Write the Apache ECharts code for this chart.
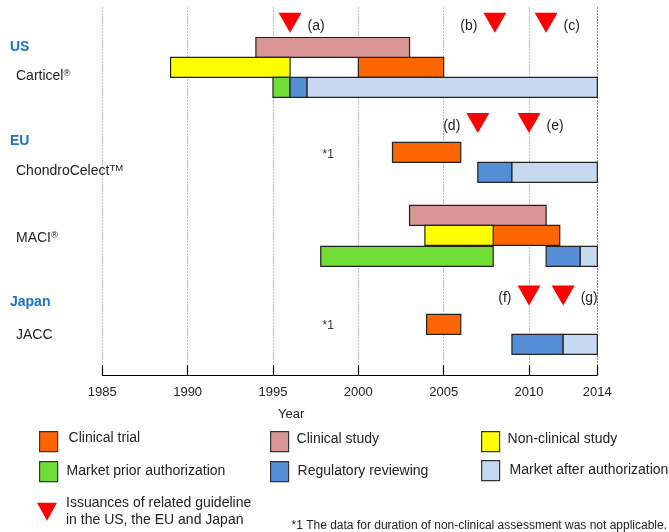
<!DOCTYPE html>
<html>
<head>
<meta charset="utf-8">
<script src="https://cdn.jsdelivr.net/npm/echarts@6/dist/echarts.min.js"></script>
<style>
html,body{margin:0;padding:0;background:#fff;}
#main{width:669px;height:532px;}
</style>
</head>
<body>
<div id="main"></div>
<script>
// development phases (legend order)
const phaseNames = ['Clinical trial', 'Clinical study', 'Non-clinical study',
    'Market prior authorization', 'Regulatory reviewing', 'Market after authorization'];

// one entry per bar: phase, start year, end year, lane (row, counted from top)
const barPhase = [
    'Clinical study', 'Non-clinical study', 'Clinical trial', 'Market prior authorization', 'Regulatory reviewing', 'Market after authorization',
    'Clinical trial', 'Regulatory reviewing', 'Market after authorization',
    'Clinical study', 'Non-clinical study', 'Clinical trial', 'Market prior authorization', 'Regulatory reviewing', 'Market after authorization',
    'Clinical trial', 'Regulatory reviewing', 'Market after authorization'
];
const barStart = [1994, 1989, 2000, 1995, 1996, 1997,   2002, 2007, 2009,   2003, 2003.9, 2007.9, 1997.8, 2011, 2013,   2004, 2009, 2012];
const barEnd   = [2003, 1996, 2005, 1996, 1997, 2014,   2006, 2009, 2014,   2011, 2007.9, 2011.8, 2007.9, 2013, 2014,   2006, 2012, 2014];
const barLane  = [2, 3, 3, 4, 4, 4,   7.25, 8.25, 8.25,   10.4, 11.4, 11.4, 12.45, 12.45, 12.45,   15.85, 16.85, 16.85];

// guideline issuances (red triangles)
const guideName = 'Issuances of related guideline in the US, the EU and Japan';
const guideTags  = ['(a)', '(b)', '(c)', '(d)', '(e)', '(f)', '(g)'];
const guideYears = [1996, 2008, 2011, 2007, 2010, 2010, 2012];
const guideLanes = [0.76, 0.76, 0.76, 5.78, 5.78, 14.41, 14.41];

// row captions on the left
const rowLabels = ['US', 'Carticel', 'EU', 'ChondroCelect', 'MACI', 'Japan', 'JACC'];
const rowMarks  = ['', '®', '', 'TM', '®', '', ''];
const rowLanes  = [1.99, 3.43, 6.71, 8.18, 11.54, 14.76, 16.38];
const regionNames = ['US', 'EU', 'Japan'];

// "*1" notes
const noteYears = [1997.9, 1997.9];
const noteLanes = [7.38, 15.91];

const FONT = '"Liberation Sans", Arial, sans-serif';
const phaseColors = {
    'Clinical trial': '#ff6600',
    'Clinical study': '#d99694',
    'Non-clinical study': '#ffff00',
    'Market prior authorization': '#71de38',
    'Regulatory reviewing': '#558ed5',
    'Market after authorization': '#c6d9f1'
};
const tagSide = {'(a)': 'right', '(b)': 'left', '(c)': 'right', '(d)': 'left', '(e)': 'right', '(f)': 'left', '(g)': 'right'};

function renderBar(params, api){
    let s = api.coord([api.value(0), api.value(2)]);
    let e = api.coord([api.value(1), api.value(2)]);
    let h = api.size([0, 1])[1];
    return {
        type: 'rect',
        shape: {x: s[0], y: s[1] - h / 2, width: e[0] - s[0], height: h},
        style: {fill: api.visual('color'), stroke: '#222', lineWidth: 1.2}
    };
}

function phaseSeries(name){
    let data = [];
    barPhase.forEach((p, i) => {
        if(p === name){
            data.push([barStart[i], barEnd[i], barLane[i]]);
        }
    });
    return {
        type: 'custom',
        name: name,
        silent: true,
        renderItem: renderBar,
        itemStyle: {color: phaseColors[name]},
        encode: {x: [0, 1], y: 2},
        data: data
    };
}

function renderRowLabel(params, api){
    let i = params.dataIndex;
    let y = api.coord([1985, api.value(0)])[1];
    let isRegion = regionNames.includes(rowLabels[i]);
    let text = '{m|' + rowLabels[i] + '}' + (rowMarks[i] ? '{s|' + rowMarks[i] + '}' : '');
    return {
        type: 'text',
        x: isRegion ? 10 : 16,
        y: y,
        style: {
            text: text,
            verticalAlign: 'middle',
            rich: {
                m: {fontSize: 14, fontFamily: FONT, lineHeight: 16,
                    fontWeight: isRegion ? 'bold' : 'normal', fill: isRegion ? '#1874c8' : '#222'},
                s: {fontSize: 9.5, fontFamily: FONT, lineHeight: 10, verticalAlign: 'top', fill: '#222'}
            }
        }
    };
}

function renderNote(params, api){
    let p = api.coord([api.value(0), api.value(1)]);
    return {
        type: 'text', x: p[0], y: p[1],
        style: {text: '*1', fontSize: 12, fontFamily: FONT, fill: '#333', verticalAlign: 'middle'}
    };
}

// one legend box per entry so they sit in the 3-column layout of the original
function legendAt(name, left, top, textPad, opts){
    return Object.assign({
        data: [name],
        left: left,
        top: top,
        padding: 0,
        icon: 'rect',
        itemWidth: 18,
        itemHeight: 20,
        selectedMode: false,
        itemStyle: {borderColor: '#333', borderWidth: 1.2},
        formatter: '{t|{name}}',
        textStyle: {
            fontSize: 14, fontFamily: FONT, color: '#222',
            rich: {t: {fontSize: 14, fontFamily: FONT, color: '#222', padding: textPad}}
        }
    }, opts || {});
}

let myChart = echarts.init(document.getElementById('main'));

let series = phaseNames.map(phaseSeries);
series.push({
    type: 'scatter',
    name: guideName,
    silent: true,
    symbol: 'triangle',
    symbolRotate: 180,
    symbolSize: [23, 20],
    itemStyle: {color: '#ff0000', opacity: 1},
    label: {show: true, fontSize: 14, fontFamily: FONT, color: '#222', distance: 6, offset: [0, 3]},
    data: guideYears.map((y, i) => ({
        value: [y, guideLanes[i]],
        label: {formatter: guideTags[i], position: tagSide[guideTags[i]]}
    }))
});
series.push({
    type: 'custom',
    silent: true,
    renderItem: renderRowLabel,
    encode: {y: 0},
    data: rowLanes.map(l => [l])
});
series.push({
    type: 'custom',
    silent: true,
    renderItem: renderNote,
    encode: {x: 0, y: 1},
    data: noteYears.map((y, i) => [y, noteLanes[i]])
});

let option = {
    animation: false,
    grid: {left: 102.3, right: 71.7, top: 7.5, bottom: 156.7},
    xAxis: {
        type: 'value',
        min: 1985,
        max: 2014,
        interval: 5,
        axisLine: {onZero: false, lineStyle: {color: '#000', width: 1}},
        axisTick: {inside: true, length: 10, lineStyle: {color: '#000', width: 1.2}},
        axisLabel: {
            fontSize: 13, fontFamily: FONT, color: '#222', margin: 11,
            formatter: v => String(v)
        },
        splitLine: {
            show: true,
            lineStyle: {color: ['#777', '#777', '#777', '#777', '#777', '#777', '#111'], type: [1, 2], width: 1}
        }
    },
    yAxis: {
        type: 'value',
        inverse: true,
        min: 0,
        max: 18.4,
        show: false
    },
    legend: [
        legendAt('Clinical trial', 39, 431, [0, 0, 6, 6]),
        legendAt('Clinical study', 270, 431, [0, 0, 4, 3]),
        legendAt('Non-clinical study', 481, 431, [0, 0, 4, 3]),
        legendAt('Market prior authorization', 39, 461, [0, 0, 0, 4]),
        legendAt('Regulatory reviewing', 270, 461, [0, 0, 0, 4]),
        legendAt('Market after authorization', 481, 460, [0, 0, 0, 5]),
        legendAt(guideName, 37, 496, [0, 0, 0, 4], {
            icon: 'path://M0,0L20,0L10,18Z',
            itemWidth: 20,
            itemHeight: 18,
            itemStyle: {borderWidth: 0},
            formatter: n => '{t|' + n.replace(' in the US', '}\n{t|in the US') + '}',
            textStyle: {
                fontSize: 14, fontFamily: FONT, color: '#222',
                rich: {t: {fontSize: 14, fontFamily: FONT, color: '#222', lineHeight: 17.6, padding: [0, 0, 0, 4]}}
            }
        })
    ],
    graphic: [
        {type: 'text', x: 278, y: 414,
            style: {text: 'Year', fontSize: 13, fontFamily: FONT, fill: '#222', verticalAlign: 'middle'}},
        {type: 'text', x: 291.5, y: 526,
            style: {text: '*1 The data for duration of non-clinical assessment was not applicable.',
                fontSize: 12, fontFamily: FONT, fill: '#222', verticalAlign: 'middle'}}
    ],
    series: series
};

myChart.setOption(option);
</script>
</body>
</html>
